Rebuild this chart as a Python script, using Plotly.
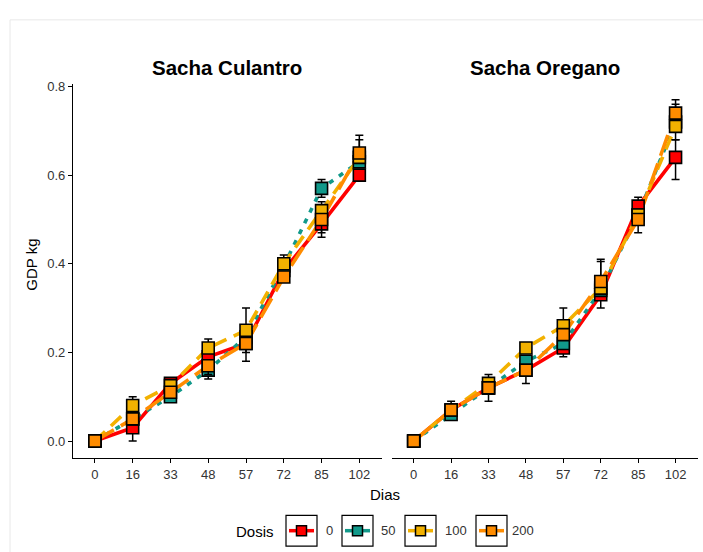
import plotly.graph_objects as go

W, H = 703, 552

dias = ["0", "16", "33", "48", "57", "72", "85", "102"]
dosis = ["0", "50", "100", "200"]
colores = ["#FF0000", "#11998A", "#F2B100", "#FF8C00"]
paneles = ["Sacha Culantro", "Sacha Oregano"]

# Sacha Culantro
cul_0 = [0, 0.03, 0.13, 0.19, 0.22, 0.385, 0.49, 0.60]
cul_50 = [0, 0.05, 0.10, 0.16, 0.235, 0.395, 0.57, 0.63]
cul_100 = [0, 0.08, 0.125, 0.21, 0.25, 0.40, 0.52, 0.64]
cul_200 = [0, 0.05, 0.11, 0.17, 0.22, 0.37, 0.50, 0.65]
cul_0_up = [0, 0.01, 0.005, 0.01, 0.01, 0.01, 0.01, 0.01]
cul_0_dn = [0, 0.03, 0.01, 0.01, 0.04, 0.01, 0.03, 0.01]
cul_50_up = [0, 0.01, 0.01, 0.01, 0.01, 0.01, 0.02, 0.01]
cul_50_dn = [0, 0.01, 0.005, 0.02, 0.01, 0.01, 0.02, 0.01]
cul_100_up = [0, 0.02, 0.01, 0.02, 0.05, 0.02, 0.02, 0.04]
cul_100_dn = [0, 0.01, 0.01, 0.01, 0.01, 0.01, 0.01, 0.01]
cul_200_up = [0, 0.01, 0.01, 0.01, 0.01, 0.01, 0.01, 0.04]
cul_200_dn = [0, 0.01, 0.01, 0.02, 0.02, 0.01, 0.03, 0.01]

# Sacha Oregano
ore_0 = [0, 0.07, 0.12, 0.16, 0.21, 0.33, 0.53, 0.64]
ore_50 = [0, 0.06, 0.12, 0.18, 0.22, 0.34, 0.51, 0.72]
ore_100 = [0, 0.07, 0.13, 0.21, 0.26, 0.345, 0.51, 0.71]
ore_200 = [0, 0.07, 0.12, 0.16, 0.24, 0.36, 0.50, 0.74]
ore_0_up = [0, 0.01, 0.01, 0.01, 0.01, 0.02, 0.02, 0.04]
ore_0_dn = [0, 0.01, 0.01, 0.01, 0.02, 0.03, 0.01, 0.05]
ore_50_up = [0, 0.01, 0.01, 0.01, 0.01, 0.02, 0.01, 0.04]
ore_50_dn = [0, 0.01, 0.01, 0.01, 0.01, 0.01, 0.01, 0.01]
ore_100_up = [0, 0.01, 0.02, 0.005, 0.04, 0.06, 0.01, 0.02]
ore_100_dn = [0, 0.01, 0.01, 0.01, 0.01, 0.01, 0.01, 0.03]
ore_200_up = [0, 0.02, 0.01, 0.01, 0.01, 0.05, 0.01, 0.03]
ore_200_dn = [0, 0.01, 0.03, 0.03, 0.01, 0.01, 0.03, 0.01]

y_ticks = [0.0, 0.2, 0.4, 0.6, 0.8]
y_ticktext = ["0.0", "0.2", "0.4", "0.6", "0.8"]

series = {
    "Sacha Culantro": [
        (cul_0, cul_0_up, cul_0_dn),
        (cul_50, cul_50_up, cul_50_dn),
        (cul_100, cul_100_up, cul_100_dn),
        (cul_200, cul_200_up, cul_200_dn),
    ],
    "Sacha Oregano": [
        (ore_0, ore_0_up, ore_0_dn),
        (ore_50, ore_50_up, ore_50_dn),
        (ore_100, ore_100_up, ore_100_dn),
        (ore_200, ore_200_up, ore_200_dn),
    ],
}

dashes = ["solid", "5px,7px", "14px,8px", "22px,8px"]


def px(x):
    return x / W


def py(y):
    return 1 - y / H


fig = go.Figure()
axes = [("x", "y"), ("x2", "y2")]

for (xa, ya), panel in zip(axes, paneles):
    data = series[panel]
    for (vals, up, dn), col, dsh in zip(data, colores, dashes):
        fig.add_trace(go.Scatter(
            x=dias, y=vals, mode="lines", xaxis=xa, yaxis=ya,
            line=dict(color=col, width=3.6, dash=dsh),
            showlegend=False, hoverinfo="skip"))
    for (vals, up, dn), col, d in zip(data, colores, dosis):
        fig.add_trace(go.Scatter(
            x=dias, y=vals, mode="markers", xaxis=xa, yaxis=ya, name=d,
            marker=dict(symbol="square", size=12, color=col,
                        line=dict(color="black", width=1.6)),
            error_y=dict(type="data", symmetric=False, array=up,
                         arrayminus=dn, color="black", thickness=1.5,
                         width=4),
            showlegend=False))

font = "Liberation Sans, Arial"
yr = [-0.038, 0.805]
xr = [-0.58, 7.6]
common_x = dict(type="category", range=xr, showline=True, linecolor="black",
                linewidth=1.3, ticks="outside", ticklen=4, tickcolor="black",
                tickwidth=1.2, showgrid=False, zeroline=False,
                tickfont=dict(family=font, size=13, color="#333333"))
fig.update_layout(
    width=W, height=H,
    margin=dict(l=0, r=0, t=0, b=0),
    paper_bgcolor="white", plot_bgcolor="white",
    xaxis=dict(domain=[px(73), px(382)], anchor="y", **common_x),
    xaxis2=dict(domain=[px(392), px(698)], anchor="y2", **common_x),
    yaxis=dict(domain=[py(457), py(80)], range=yr, anchor="x",
               showline=True, linecolor="black", linewidth=1.3,
               ticks="outside", ticklen=4, tickcolor="black", tickwidth=1.2,
               tickvals=y_ticks, ticktext=y_ticktext, showgrid=False,
               zeroline=False,
               tickfont=dict(family=font, size=13, color="#333333")),
    yaxis2=dict(domain=[py(457), py(80)], range=yr, anchor="x2",
                showline=False, showticklabels=False, ticks="",
                showgrid=False, zeroline=False),
    showlegend=False,
)


def label(x, y, text, size, color="black", angle=0):
    return dict(x=px(x), y=py(y), xref="paper", yref="paper", text=text,
                showarrow=False, xanchor="center", yanchor="middle",
                textangle=angle,
                font=dict(family=font, size=size, color=color))


ann = [
    label(227, 63, "<b>Sacha Culantro</b>", 20.5),
    label(545, 63, "<b>Sacha Oregano</b>", 20.5),
    label(385, 494, "Dias", 15),
    label(32, 262, "GDP kg", 15, angle=-90),
    label(255, 531, "Dosis", 15),
]

shapes = [dict(type="rect", xref="paper", yref="paper",
               x0=px(10), x1=px(W + 5), y0=py(H + 5), y1=py(15),
               line=dict(color="#e8e8e8", width=1), layer="below")]
box_left = [286, 342, 405, 476]
label_x = [329, 388, 456, 523]
for bl, lx, col, d in zip(box_left, label_x, colores, dosis):
    x0, x1 = bl, bl + 31
    y0, y1 = 515, 546
    shapes.append(dict(type="rect", xref="paper", yref="paper",
                       x0=px(x0), x1=px(x1), y0=py(y1), y1=py(y0),
                       line=dict(color="black", width=1.2),
                       fillcolor="white"))
    cy = (y0 + y1) / 2
    shapes.append(dict(type="line", xref="paper", yref="paper",
                       x0=px(x0 + 3), x1=px(x1 - 3), y0=py(cy), y1=py(cy),
                       line=dict(color=col, width=3.5)))
    cx = (x0 + x1) / 2
    shapes.append(dict(type="rect", xref="paper", yref="paper",
                       x0=px(cx - 5), x1=px(cx + 5), y0=py(cy + 5),
                       y1=py(cy - 5), line=dict(color="black", width=1.5),
                       fillcolor=col))
    ann.append(label(lx, cy, d, 13, "#333333"))

fig.update_layout(annotations=ann, shapes=shapes)
fig.write_html("out.html")
